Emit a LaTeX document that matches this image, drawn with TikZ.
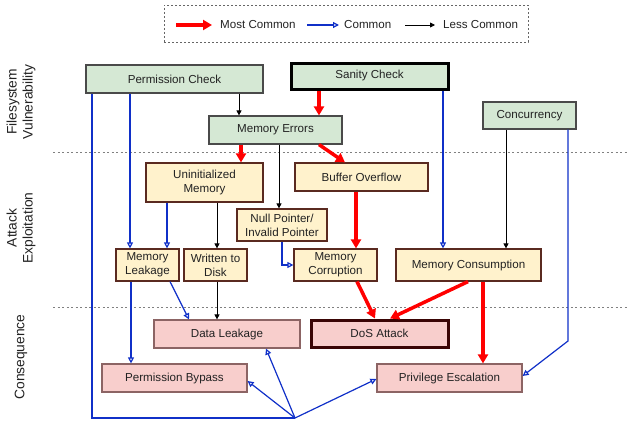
\documentclass[tikz,border=0pt]{standalone}
\usepackage{fontspec}
\setmainfont{Liberation Sans}
\usetikzlibrary{arrows.meta}
\definecolor{gfill}{HTML}{D5E8D4}
\definecolor{yfill}{HTML}{FFF2CC}
\definecolor{pfill}{HTML}{F8CECC}
\definecolor{gborder}{HTML}{4A4A4A}
\definecolor{yborder}{HTML}{5A2A20}
\definecolor{pborder}{HTML}{8C6464}
\definecolor{dosborder}{HTML}{3A0505}
\definecolor{blueC}{HTML}{1030C8}
\definecolor{txt}{HTML}{222222}
\begin{document}
\begin{tikzpicture}[x=1pt,y=-1pt,
  box/.style={draw, line width=1.2pt, inner sep=0pt, align=center, text=txt,
    font=\fontsize{11.6}{14}\selectfont},
  gbox/.style={box, fill=gfill, draw=gborder},
  ybox/.style={box, fill=yfill, draw=yborder},
  pbox/.style={box, fill=pfill, draw=pborder},
  redarr/.style={draw=red, line width=3.5pt, -{Triangle[width=10pt,length=9pt]}},
  bluearr/.style={draw=blueC, line width=1.2pt, -{Triangle[open,width=6pt,length=6pt]}},
  blueline/.style={draw=blueC, line width=1.2pt},
  blackarr/.style={draw=black, line width=0.8pt, -{Triangle[width=5pt,length=5pt]}},
  sidelabel/.style={rotate=90, align=center, text=txt, font=\fontsize{13.8}{16}\selectfont},
  legtext/.style={anchor=west, inner sep=0pt, text=txt, font=\fontsize{11.6}{14}\selectfont},
  sep/.style={draw=gray, line width=1pt, dash pattern=on 2pt off 2.5pt}
]
\useasboundingbox (0,0) rectangle (635,423);

% legend
\node[draw=gray!80!black, dash pattern=on 2pt off 2pt, line width=0.8pt, minimum width=364pt, minimum height=37pt, inner sep=0pt] (legend) at (346,23.5) {};
\coordinate (l1a) at (176,25); \coordinate (l1b) at (212,25);
\coordinate (l2a) at (307,25); \coordinate (l2b) at (339,25);
\coordinate (l3a) at (405,25); \coordinate (l3b) at (435,25);
\draw[redarr] (l1a) -- (l1b);
\draw[bluearr] (l2a) -- (l2b);
\draw[blackarr] (l3a) -- (l3b);
\node[legtext] (t1) at (220,25) {Most Common};
\node[legtext] (t2) at (344,25) {Common};
\node[legtext] (t3) at (443,25) {Less Common};

% separators
\coordinate (s1a) at (53,152); \coordinate (s1b) at (628,152);
\coordinate (s2a) at (53,307); \coordinate (s2b) at (628,307);
\draw[sep] (s1a) -- (s1b);
\draw[sep] (s2a) -- (s2b);

% side labels
\node[sidelabel] (lab1) at (21,102) {Filesystem\\Vulnerability};
\node[sidelabel] (lab2) at (21,228) {Attack\\Exploitation};
\node[sidelabel] (lab3) at (21,357) {Consequence};

% nodes
\node[gbox, minimum width=177pt, minimum height=28pt] (pc) at (174.5,79) {Permission Check};
\node[gbox, draw=black, line width=3pt, minimum width=157pt, minimum height=26pt] (sc) at (369.5,76) {Sanity Check};
\node[gbox, minimum width=133pt, minimum height=28pt] (me) at (275.5,130) {Memory Errors};
\node[gbox, minimum width=93pt, minimum height=27pt] (cc) at (529.5,115.5) {Concurrency};

\node[ybox, minimum width=117pt, minimum height=39pt] (um) at (204.5,182.5) {Uninitialized\\Memory};
\node[ybox, minimum width=133pt, minimum height=28pt] (bo) at (361.5,177) {Buffer Overflow};
\node[ybox, minimum width=90pt, minimum height=32pt] (np) at (282,225) {Null Pointer/\\Invalid Pointer};
\node[ybox, minimum width=63pt, minimum height=32pt] (ml) at (147.5,265) {Memory\\Leakage};
\node[ybox, minimum width=63pt, minimum height=32pt] (wd) at (215.5,265) {Written to\\Disk};
\node[ybox, minimum width=83pt, minimum height=32pt] (mc) at (335.5,265) {Memory\\Corruption};
\node[ybox, minimum width=145pt, minimum height=32pt] (mcons) at (468.5,265) {Memory Consumption};

\node[pbox, minimum width=146pt, minimum height=28pt] (dl) at (227,334) {Data Leakage};
\node[pbox, draw=dosborder, line width=3pt, minimum width=137pt, minimum height=27pt] (dos) at (379.5,333.5) {DoS Attack};
\node[pbox, minimum width=145pt, minimum height=28pt] (pb) at (174.5,378) {Permission Bypass};
\node[pbox, minimum width=145pt, minimum height=28pt] (pe) at (449.5,378) {Privilege Escalation};

\coordinate (hub) at (295,418);
\coordinate (bend) at (568,341);

% connectors
\draw[blackarr] ([xshift=64.5pt]pc.south) -- ([xshift=-36.5pt]me.north);
\draw[redarr] ([xshift=-50.5pt]sc.south) -- ([xshift=43.5pt]me.north);
\draw[redarr] ([xshift=-34.5pt]me.south) -- ([xshift=36.5pt]um.north);
\draw[redarr] ([xshift=43.5pt]me.south) -- ([xshift=-16.5pt]bo.north);
\draw[blackarr] ([xshift=3.5pt]me.south) -- ([xshift=-3pt]np.north);
\draw[bluearr] ([xshift=-44.5pt]pc.south) -- ([xshift=-17.5pt]ml.north);
\draw[blueline] ([xshift=-82.5pt]pc.south) |- (hub);
\draw[bluearr] (hub) -- ([yshift=-3pt]pb.east);
\draw[bluearr] (hub) -- ([xshift=39pt]dl.south);
\draw[bluearr] (hub) -- ([yshift=-1pt]pe.west);
\draw[bluearr] ([xshift=-37.5pt]um.south) -- ([xshift=19.5pt]ml.north);
\draw[blackarr] ([xshift=12.5pt]um.south) -- ([xshift=1.5pt]wd.north);
\draw[bluearr] (np.south) |- (mc.west);
\draw[redarr] ([xshift=-5.5pt]bo.south) -- ([xshift=20.5pt]mc.north);
\draw[bluearr] ([xshift=73.5pt]sc.south) -- ([xshift=-25.5pt]mcons.north);
\draw[blackarr] ([xshift=-23.5pt]cc.south) -- ([xshift=37.5pt]mcons.north);
\draw[bluearr] ([xshift=38.5pt]cc.south) -- (bend) -- ([yshift=2pt]pe.east);
\draw[bluearr] ([xshift=-16.5pt]ml.south) -- ([xshift=-43.5pt]pb.north);
\draw[bluearr] ([xshift=22.5pt]ml.south) -- ([xshift=-38pt]dl.north);
\draw[blackarr] ([xshift=1.5pt]wd.south) -- ([xshift=-10pt]dl.north);
\draw[redarr] ([xshift=21.5pt]mc.south) -- ([xshift=-4.5pt]dos.north);
\draw[redarr] ([xshift=-0.5pt]mcons.south) -- ([xshift=10.5pt]dos.north);
\draw[redarr] ([xshift=14.5pt]mcons.south) -- ([xshift=33.5pt]pe.north);
\end{tikzpicture}
\end{document}
